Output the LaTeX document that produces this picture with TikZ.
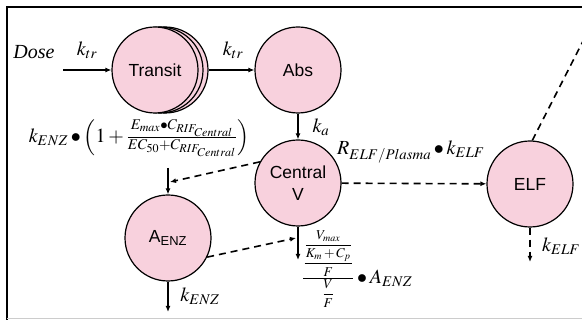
\documentclass[tikz,border=0pt]{standalone}
\usepackage{amsmath}
\usepackage{mathptmx}
\usepackage{fontspec}
\setmainfont{Liberation Serif}
\newfontfamily\cmptfont{Liberation Sans}
\usetikzlibrary{arrows.meta}
\definecolor{cmptpink}{RGB}{248,209,221}

\begin{document}
\begin{tikzpicture}[x=1pt,y=-1pt,
  cmpt/.style={circle,draw,line width=1.2pt,fill=cmptpink,minimum size=86pt,inner sep=0pt,
    align=center,font=\cmptfont\fontsize{17.5}{22}\selectfont},
  flow/.style={-{Latex[length=6pt,width=5pt]},line width=1.2pt},
  dflow/.style={flow,line width=1.6pt,dash pattern=on 7pt off 5pt},
  lbl/.style={font=\fontsize{20}{24}\selectfont,inner sep=1pt}]
  \clip (0,0) rectangle (582,320);
  \draw[line width=2pt] (7,330) -- (7,7) -- (590,7);
  \draw[black!20,line width=0.8pt] (7,318.5) -- (590,318.5);

  \node[cmpt] (transit2) at (165,70) {};
  \node[cmpt] (transit1) at (160,70) {};
  \node[cmpt] (transit) at (155,70) {Transit};
  \node[cmpt] (abs) at (298,70) {Abs};
  \node[cmpt] (central) at (298,183) {Central\\V};
  \node[cmpt] (aenz) at (168,238) {A\textsubscript{ENZ}};
  \node[cmpt] (elf) at (530,184) {ELF};

  \node[lbl] (dose) at (34,52) {\textit{Dose}};
  \coordinate (dosein) at (63,70);
  \draw[flow] (dosein) -- (transit);
  \node[lbl] (ktr1) at (87,50) {$k_{tr}$};
  \draw[flow] (transit2.east) -- (abs);
  \node[lbl] (ktr2) at (233,50) {$k_{tr}$};
  \draw[flow] (abs) -- (central);
  \node[lbl] (ka) at (321,127) {$k_a$};

  \node[lbl] (kenzin) at (139,138) {$k_{ENZ}\bullet
    \left(1+\frac{E_{max}{\bullet}C_{RIF_{Central}}}{EC_{50}+C_{RIF_{Central}}}\right)$};
  \coordinate (enzin) at (168,168);
  \coordinate (enzhit) at (170,182);
  \draw[flow] (enzin) -- (aenz);
  \draw[dflow] (central.151) -- (enzhit);
  \coordinate (enzout) at (168,312);
  \draw[flow] (aenz) -- (enzout);
  \node[lbl] (kenz) at (200,296) {$k_{ENZ}$};

  \coordinate (clout) at (298,260);
  \coordinate (clhit) at (296,238);
  \draw[flow] (central) -- (clout);
  \draw[dflow] (aenz.-26) -- (clhit);
  \node[lbl,anchor=base west] (clmm) at (301,284)
    {${\raisebox{2.5pt}{\fontsize{13.5}{15}\selectfont
      $\dfrac{\dfrac{\dfrac{V_{max}}{K_m+C_p}}{F}}{\dfrac{V}{F}}$}}\bullet A_{ENZ}$};

  \draw[dflow] (central) -- (elf);
  \node[lbl] (kelfin) at (411,152) {$R_{ELF/Plasma}\bullet k_{ELF}$};
  \coordinate (elfdown) at (530,262);
  \draw[dflow] (elf) -- (elfdown);
  \node[lbl,anchor=west] (kelf) at (541,246) {$k_{ELF}$};
  \coordinate (elfout) at (604,0);
  \draw[line width=1.6pt,dash pattern=on 7pt off 5pt] (elf.87) -- (elfout);
\end{tikzpicture}
\end{document}
